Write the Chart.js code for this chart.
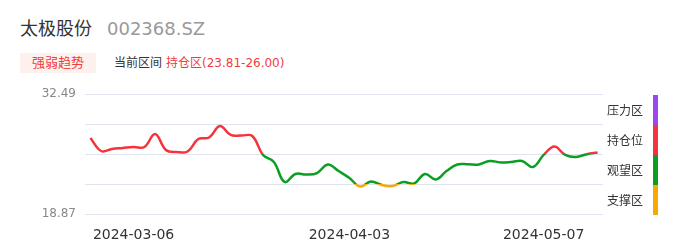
<!DOCTYPE html>
<html>
<head>
<meta charset="utf-8">
<script src="https://cdn.jsdelivr.net/npm/chart.js@4/dist/chart.umd.min.js"></script>
<style>
  html, body { margin: 0; padding: 0; background: #fff; }
  body { width: 686px; height: 247px; position: relative; overflow: hidden;
         font-family: "DejaVu Sans", "Noto Sans CJK SC", sans-serif; }
  #chart { position: absolute; left: 0; top: 0; }
  .abs { position: absolute; white-space: nowrap; }
  #name { left: 20px; top: 19px; font-size: 18px; line-height: 20px; color: #333; }
  #code { left: 107px; top: 19px; font-size: 18px; line-height: 20px; color: #999; }
  #tag { left: 20px; top: 53px; width: 76px; height: 20px; line-height: 20px; text-align: center;
         font-size: 13px; color: #f23c3c; background: #fdf1ee; }
  #range { left: 114px; top: 55px; font-size: 12px; line-height: 16px; color: #333; }
  #range span { color: #f23c3c; margin-left: 4px; }
</style>
</head>
<body>
<div class="abs" id="name">太极股份</div>
<div class="abs" id="code">002368.SZ</div>
<div class="abs" id="tag">强弱趋势</div>
<div class="abs" id="range">当前区间<span>持仓区(23.81-26.00)</span></div>
<canvas id="chart" width="686" height="247"></canvas>
<script>
// --- data ---
const dates = [
  "2024-02-29","2024-03-01","2024-03-04","2024-03-05","2024-03-06","2024-03-07","2024-03-08",
  "2024-03-11","2024-03-12","2024-03-13","2024-03-14","2024-03-15","2024-03-18","2024-03-19",
  "2024-03-20","2024-03-21","2024-03-22","2024-03-25","2024-03-26","2024-03-27","2024-03-28",
  "2024-03-29","2024-04-01","2024-04-02","2024-04-03","2024-04-08","2024-04-09","2024-04-10",
  "2024-04-11","2024-04-12","2024-04-15","2024-04-16","2024-04-17","2024-04-18","2024-04-19",
  "2024-04-22","2024-04-23","2024-04-24","2024-04-25","2024-04-26","2024-04-29","2024-05-06",
  "2024-05-07","2024-05-08","2024-05-09","2024-05-10","2024-05-13","2024-05-14"
];
const prices = [
  27.50, 26.02, 26.25, 26.36, 26.47, 26.47, 27.95, 26.13, 25.91, 25.96, 27.38, 27.55,
  28.86, 27.84, 27.78, 27.72, 25.57, 24.77, 22.50, 23.41, 23.35, 23.52, 24.49, 23.75,
  22.96, 21.99, 22.56, 22.16, 22.05, 22.50, 22.33, 23.41, 22.79, 23.75, 24.49, 24.51,
  24.49, 24.89, 24.72, 24.77, 24.89, 24.20, 25.57, 26.53, 25.57, 25.34, 25.66, 25.85
];
const shownDates = ["2024-03-06", "2024-04-03", "2024-05-07"];
const yTicks = [18.87, 22.275, 25.68, 29.085, 32.49];

// zones, bottom to top
const zoneNames = ["支撑区", "观望区", "持仓位", "压力区"];
const zoneColors = ["#f7a900", "#0a9e23", "#f5333d", "#9d47f2"];
const zoneBounds = [18.87, 22.275, 25.68, 29.085, 32.49];

function lineColor(context) {
  const chart = context.chart;
  const area = chart.chartArea;
  if (!area) return zoneColors[1];
  const y = chart.scales.y;
  const top = y.getPixelForValue(zoneBounds[zoneBounds.length - 1]);
  const bottom = y.getPixelForValue(zoneBounds[0]);
  const g = chart.ctx.createLinearGradient(0, bottom, 0, top);
  const span = zoneBounds[zoneBounds.length - 1] - zoneBounds[0];
  zoneColors.forEach((c, i) => {
    const a = (zoneBounds[i] - zoneBounds[0]) / span;
    const b = (zoneBounds[i + 1] - zoneBounds[0]) / span;
    g.addColorStop(a, c);
    g.addColorStop(b, c);
  });
  return g;
}

// right side zone bar + labels
const zoneLegend = {
  id: "zoneLegend",
  afterDraw(chart) {
    const c = chart.ctx;
    const y = chart.scales.y;
    c.save();
    c.font = "12px 'DejaVu Sans', 'Noto Sans CJK SC'";
    c.textAlign = "center";
    c.textBaseline = "middle";
    zoneNames.forEach((name, i) => {
      const y0 = y.getPixelForValue(zoneBounds[i + 1]) + 1;
      const y1 = y.getPixelForValue(zoneBounds[i]) + 1;
      c.fillStyle = zoneColors[i];
      c.fillRect(653, y0, 5, y1 - y0);
      c.fillStyle = "#333";
      c.fillText(name, 625, (y0 + y1) / 2 + 2);
    });
    c.restore();
  }
};

new Chart(document.getElementById("chart"), {
  type: "line",
  data: {
    labels: dates,
    datasets: [{
      data: prices,
      borderColor: lineColor,
      borderWidth: 2.5,
      tension: 0.4,
      pointRadius: 0,
      fill: false
    }]
  },
  options: {
    responsive: false,
    animation: false,
    layout: { padding: { left: 0, right: 83, top: 94, bottom: 0 } },
    plugins: { legend: { display: false }, tooltip: { enabled: false } },
    scales: {
      x: {
        offset: true,
        grid: { display: false },
        border: { display: false },
        ticks: {
          autoSkip: false,
          maxRotation: 0,
          padding: 5,
          color: "#333",
          font: { family: "DejaVu Sans", size: 14 },
          callback: (v, i) => shownDates.includes(dates[i]) ? dates[i] : ""
        },
        afterFit: s => { s.height = 33; }
      },
      y: {
        min: 18.87,
        max: 32.49,
        border: { display: false },
        grid: { color: "#dfe4f0", drawTicks: false },
        afterBuildTicks: s => { s.ticks = yTicks.map(v => ({ value: v })); },
        afterFit: s => { s.width = 85; },
        ticks: {
          padding: 9,
          color: "#888",
          font: { family: "DejaVu Sans", size: 12 },
          callback: v => (v === yTicks[0] || v === yTicks[yTicks.length - 1]) ? v.toFixed(2) : ""
        }
      }
    }
  },
  plugins: [zoneLegend]
});
</script>
</body>
</html>
